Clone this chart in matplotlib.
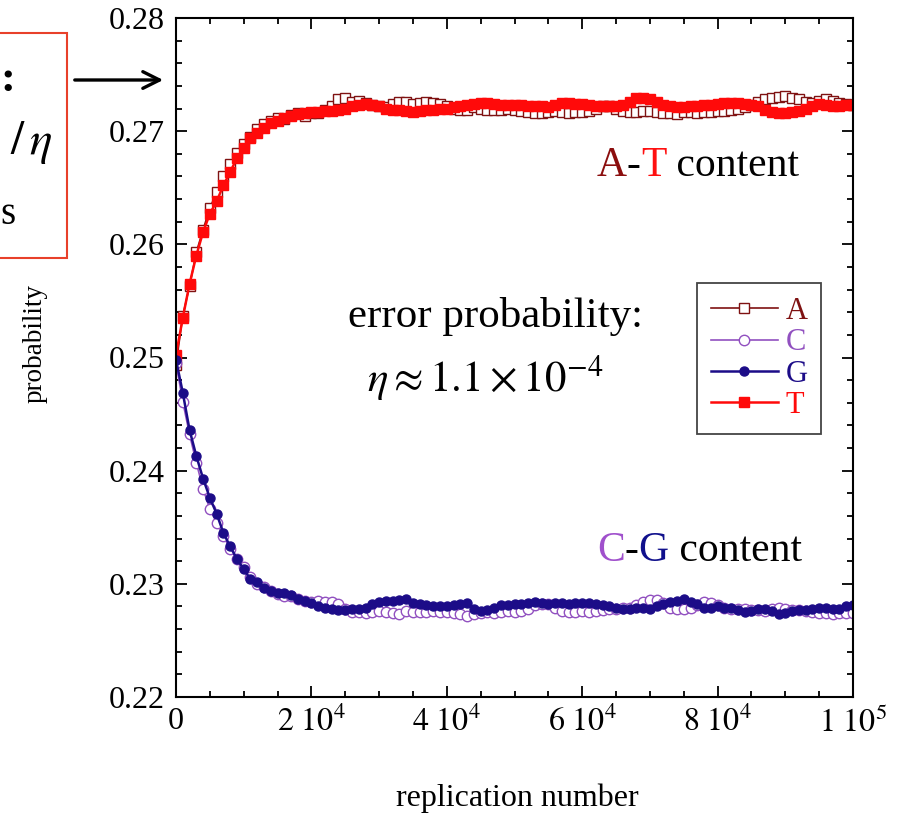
import numpy as np
import matplotlib
matplotlib.use('Agg')
import matplotlib.pyplot as plt
from matplotlib.patches import Rectangle, FancyArrowPatch
from matplotlib.ticker import MultipleLocator, FixedLocator

plt.rcParams['font.family'] = ['Liberation Serif', 'DejaVu Serif']
plt.rcParams['mathtext.fontset'] = 'stix'

# one sample every 1000 replications
steps = np.arange(101) * 1000

prob_A = [0.2493, 0.2537, 0.2563, 0.2593, 0.2613, 0.2632, 0.2646, 0.2660, 0.2671, 0.2681,
          0.2689, 0.2695, 0.2702, 0.2706, 0.2709, 0.2712, 0.2711, 0.2714, 0.2716, 0.2713,
          0.2716, 0.2716, 0.2719, 0.2722, 0.2728, 0.2729, 0.2726, 0.2727, 0.2725, 0.2723,
          0.2722, 0.2721, 0.2724, 0.2726, 0.2726, 0.2724, 0.2725, 0.2726, 0.2725, 0.2724,
          0.2722, 0.2720, 0.2719, 0.2719, 0.2721, 0.2720, 0.2719, 0.2719, 0.2719, 0.2720,
          0.2719, 0.2718, 0.2717, 0.2716, 0.2716, 0.2717, 0.2718, 0.2717, 0.2716, 0.2717,
          0.2717, 0.2718, 0.2720, 0.2722, 0.2722, 0.2720, 0.2718, 0.2717, 0.2717, 0.2718,
          0.2718, 0.2717, 0.2716, 0.2716, 0.2715, 0.2717, 0.2717, 0.2716, 0.2717, 0.2717,
          0.2718, 0.2718, 0.2719, 0.2720, 0.2721, 0.2723, 0.2726, 0.2728, 0.2729, 0.2730,
          0.2731, 0.2729, 0.2728, 0.2726, 0.2725, 0.2727, 0.2728, 0.2727, 0.2725, 0.2724,
          0.2723]

prob_T = [0.2502, 0.2535, 0.2565, 0.2590, 0.2611, 0.2627, 0.2638, 0.2652, 0.2664, 0.2676,
          0.2685, 0.2694, 0.2698, 0.2703, 0.2707, 0.2709, 0.2712, 0.2713, 0.2715, 0.2716,
          0.2717, 0.2717, 0.2718, 0.2718, 0.2719, 0.2720, 0.2722, 0.2723, 0.2724, 0.2723,
          0.2722, 0.2720, 0.2719, 0.2719, 0.2718, 0.2717, 0.2718, 0.2719, 0.2719, 0.2720,
          0.2720, 0.2721, 0.2722, 0.2723, 0.2724, 0.2725, 0.2725, 0.2724, 0.2723, 0.2723,
          0.2723, 0.2723, 0.2722, 0.2722, 0.2722, 0.2721, 0.2723, 0.2725, 0.2725, 0.2724,
          0.2724, 0.2723, 0.2722, 0.2722, 0.2722, 0.2722, 0.2723, 0.2726, 0.2729, 0.2729,
          0.2728, 0.2726, 0.2723, 0.2722, 0.2721, 0.2721, 0.2722, 0.2722, 0.2723, 0.2723,
          0.2724, 0.2725, 0.2725, 0.2725, 0.2724, 0.2723, 0.2722, 0.2719, 0.2717, 0.2716,
          0.2716, 0.2717, 0.2718, 0.2720, 0.2722, 0.2724, 0.2723, 0.2722, 0.2722, 0.2723,
          0.2723]

prob_C = [0.2495, 0.2461, 0.2432, 0.2407, 0.2384, 0.2366, 0.2354, 0.2342, 0.2331, 0.2322,
          0.2315, 0.2306, 0.2300, 0.2297, 0.2294, 0.2291, 0.2289, 0.2289, 0.2287, 0.2285,
          0.2284, 0.2285, 0.2284, 0.2284, 0.2282, 0.2278, 0.2275, 0.2275, 0.2274, 0.2275,
          0.2276, 0.2275, 0.2274, 0.2273, 0.2276, 0.2275, 0.2275, 0.2275, 0.2276, 0.2275,
          0.2275, 0.2274, 0.2273, 0.2272, 0.2273, 0.2274, 0.2275, 0.2274, 0.2275, 0.2276,
          0.2275, 0.2276, 0.2278, 0.2281, 0.2282, 0.2282, 0.2279, 0.2276, 0.2275, 0.2275,
          0.2276, 0.2275, 0.2276, 0.2277, 0.2278, 0.2278, 0.2279, 0.2279, 0.2281, 0.2284,
          0.2286, 0.2286, 0.2283, 0.2279, 0.2278, 0.2278, 0.2279, 0.2281, 0.2284, 0.2283,
          0.2281, 0.2279, 0.2278, 0.2278, 0.2278, 0.2277, 0.2277, 0.2276, 0.2278, 0.2279,
          0.2278, 0.2277, 0.2277, 0.2276, 0.2275, 0.2274, 0.2274, 0.2273, 0.2274, 0.2274,
          0.2274]

prob_G = [0.2498, 0.2469, 0.2436, 0.2413, 0.2393, 0.2376, 0.2362, 0.2345, 0.2333, 0.2322,
          0.2313, 0.2304, 0.2302, 0.2296, 0.2294, 0.2292, 0.2292, 0.2290, 0.2287, 0.2285,
          0.2283, 0.2280, 0.2279, 0.2278, 0.2277, 0.2277, 0.2278, 0.2278, 0.2279, 0.2282,
          0.2284, 0.2285, 0.2285, 0.2286, 0.2287, 0.2283, 0.2282, 0.2281, 0.2280, 0.2280,
          0.2280, 0.2281, 0.2282, 0.2283, 0.2278, 0.2276, 0.2277, 0.2279, 0.2281, 0.2281,
          0.2282, 0.2282, 0.2283, 0.2284, 0.2283, 0.2282, 0.2283, 0.2283, 0.2282, 0.2283,
          0.2283, 0.2283, 0.2282, 0.2281, 0.2280, 0.2279, 0.2278, 0.2278, 0.2279, 0.2279,
          0.2278, 0.2280, 0.2282, 0.2284, 0.2285, 0.2287, 0.2284, 0.2282, 0.2279, 0.2279,
          0.2280, 0.2279, 0.2279, 0.2277, 0.2275, 0.2276, 0.2278, 0.2278, 0.2276, 0.2273,
          0.2274, 0.2276, 0.2277, 0.2277, 0.2278, 0.2279, 0.2279, 0.2278, 0.2278, 0.2280,
          0.2281]

x_ticks = [0, 20000, 40000, 60000, 80000, 100000]
x_ticklabels = ['0', r'$\mathrm{2\ 10^{4}}$', r'$\mathrm{4\ 10^{4}}$', r'$\mathrm{6\ 10^{4}}$',
                r'$\mathrm{8\ 10^{4}}$', r'$\mathrm{1\ 10^{5}}$']
y_ticks = [0.22, 0.23, 0.24, 0.25, 0.26, 0.27, 0.28]

col_A = '#7f1212'
col_C = '#9150c0'
col_G = '#1c0c88'
col_T = '#ff0a0a'

W, H = 903, 815
fig = plt.figure(figsize=(W / 100, H / 100), dpi=100)
ax = fig.add_axes([176 / W, 1 - 697 / H, (853 - 176) / W, (697 - 18) / H])

ax.plot(steps, prob_A, '-s', color=col_A, lw=1.2, ms=7.5, mfc='white', mec=col_A, mew=1.0, label='A')
ax.plot(steps, prob_T, '-s', color=col_T, lw=1.8, ms=6.5, mfc=col_T, mec=col_T, label='T')
ax.plot(steps, prob_C, '-o', color=col_C, lw=1.2, ms=7.5, mfc='white', mec=col_C, mew=1.0, label='C')
ax.plot(steps, prob_G, '-o', color=col_G, lw=1.8, ms=6.5, mfc=col_G, mec=col_G, label='G')

ax.set_xlim(0, 100000)
ax.set_ylim(0.22, 0.28)
ax.xaxis.set_major_locator(FixedLocator(x_ticks))
ax.set_xticklabels(x_ticklabels)
ax.xaxis.set_minor_locator(MultipleLocator(5000))
ax.yaxis.set_major_locator(FixedLocator(y_ticks))
ax.set_yticklabels(['%.2f' % v for v in y_ticks])
ax.yaxis.set_minor_locator(MultipleLocator(0.002))
ax.tick_params(which='both', direction='in', top=True, right=True, width=1.3, labelsize=23)
ax.tick_params(which='major', length=8)
ax.tick_params(which='minor', length=4.5)
ax.tick_params(axis='y', which='major', pad=8)
ax.tick_params(axis='x', which='major', pad=7)
for s in ax.spines.values():
    s.set_linewidth(1.5)

ax.set_xlabel('replication number', fontsize=23)
ax.xaxis.set_label_coords(0.504, -0.127)
ax.set_ylabel('probability', fontsize=19.5)
ax.yaxis.set_label_coords(-0.19, 0.52)

# legend in A, C, G, T order
h, l = ax.get_legend_handles_labels()
order = [0, 2, 3, 1]
leg = ax.legend([h[i] for i in order], [l[i] for i in order], loc='upper left',
                bbox_to_anchor=(697 / W, 1 - 283 / H), bbox_transform=fig.transFigure,
                fontsize=22, handlelength=2.2, handletextpad=0.25, labelspacing=0.08,
                borderpad=0.45, borderaxespad=0, fancybox=False, framealpha=1,
                edgecolor='#444444')
leg.get_frame().set_linewidth(1.3)
for txt, c in zip(leg.get_texts(), [col_A, col_C, col_G, col_T]):
    txt.set_color(c)

# composition labels with coloured base letters
def colored_label(x, y, parts, size):
    t = ax.text(x, y, parts[0][0], color=parts[0][1], fontsize=size,
                transform=fig.transFigure, va='baseline')
    for s, c in parts[1:]:
        t = ax.annotate(s, xy=(1, 0), xycoords=t, va='bottom', ha='left',
                        color=c, fontsize=size)
    return t

colored_label(597 / W, 1 - 176 / H, [('A', '#8b0e0e'), ('-', 'black'), ('T', '#ff1010'),
                                      (' content', 'black')], 30)
colored_label(597 / W, 1 - 561 / H, [('C', '#a050cc'), ('-', 'black'), ('G', '#10108c'),
                                      (' content', 'black')], 30)

fig.text(496 / W, 1 - 316 / H, 'error probability:', fontsize=31, ha='center', va='center')
fig.text(485 / W, 1 - 378 / H, r'$\eta\approx1.1\times10^{-4}$', fontsize=31,
         ha='center', va='center')

# clipped box on the left edge with an arrow pointing to the plot
fig.add_artist(Rectangle((-10 / W, 1 - 258 / H), 77 / W, 225 / H, transform=fig.transFigure,
                         fill=False, edgecolor='#e8402a', lw=1.5))
fig.text(15 / W, 1 - 80 / H, ':', fontsize=32, fontweight='bold', ha='right', va='center')
fig.text(52 / W, 1 - 142 / H, r'$/\,\eta$', fontsize=34, ha='right', va='center')
fig.text(15 / W, 1 - 214 / H, 's', fontsize=28, ha='right', va='center')
fig.add_artist(FancyArrowPatch((72 / W, 1 - 80 / H), (166 / W, 1 - 80 / H),
                               transform=fig.transFigure, arrowstyle='->',
                               mutation_scale=30, lw=2.4, color='black'))

fig.savefig('out.png', dpi=100)
